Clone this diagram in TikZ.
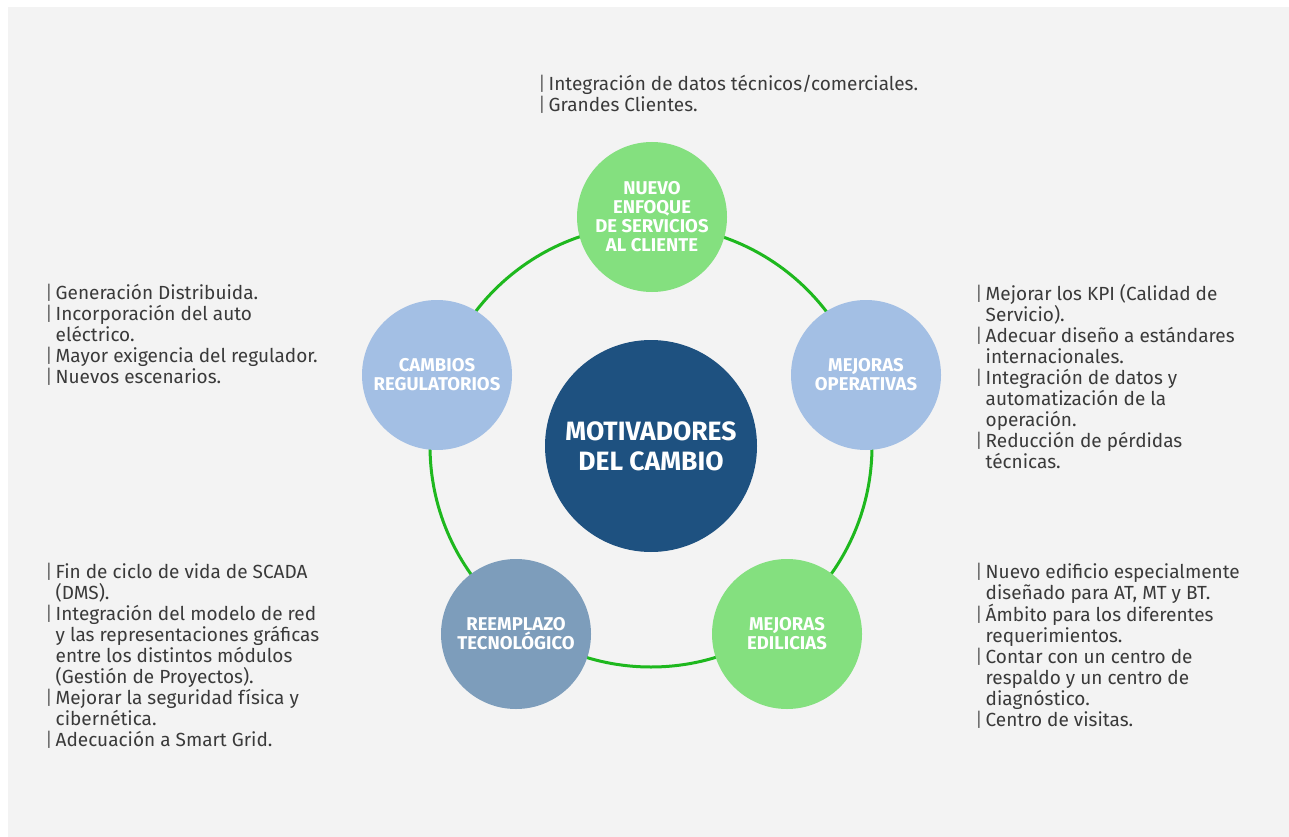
\documentclass[tikz,border=0pt]{standalone}
\usepackage{fontspec}
\setmainfont{Fira Sans}
\definecolor{panel}{HTML}{F3F3F3}
\definecolor{txt}{HTML}{3A3A3A}
\definecolor{ringc}{HTML}{1EB81E}
\definecolor{leaf}{HTML}{84E07F}
\definecolor{sky}{HTML}{A3BFE4}
\definecolor{steel}{HTML}{7D9DBB}
\definecolor{navy}{HTML}{1E5180}

% bullet bar and hanging indent for the side notes
\newlength{\barw}\setlength{\barw}{10.5pt}
\newcommand{\bi}{\makebox[\barw][l]{\color{txt!75}|}}
\newcommand{\ci}{\hspace*{\barw}}

\begin{document}
\begin{tikzpicture}[x=1pt,y=-1pt,
  hub/.style={circle, fill=navy, text=white, minimum size=212pt, inner sep=0pt,
    align=center, font=\fontsize{26.5}{30}\selectfont\bfseries},
  spoke/.style={circle, minimum size=150pt, inner sep=0pt, text=white,
    align=center, font=\fontsize{18.5}{19}\selectfont\bfseries},
  note/.style={anchor=north west, align=left, text=txt, inner sep=0pt,
    font=\fontsize{19}{21}\selectfont},
  ringline/.style={draw=ringc, line width=3pt}]
\useasboundingbox (0,0) rectangle (1289,837);
\fill[white] (0,0) rectangle (1289,837);
\fill[panel] (8,7) rectangle (1289,837);

% centre of the cycle
\coordinate (o) at (651,446);
\draw[ringline] (o) circle (221pt);

\node[hub] (hub) at (o) {MOTIVADORES\\DEL CAMBIO};

\node[spoke, fill=leaf]  (top) at (652,217) {NUEVO\\ENFOQUE\\DE SERVICIOS\\AL CLIENTE};
\node[spoke, fill=sky]   (lft) at (437,375) {CAMBIOS\\REGULATORIOS};
\node[spoke, fill=sky]   (rgt) at (866,375) {MEJORAS\\OPERATIVAS};
\node[spoke, fill=steel] (bl)  at (516,634) {REEMPLAZO\\TECNOLÓGICO};
\node[spoke, fill=leaf]  (br)  at (787,634) {MEJORAS\\EDILICIAS};

% side notes
\node[note] (ntop) at (538,75) {\bi Integración de datos técnicos/comerciales.\\
\bi Grandes Clientes.};

\node[note] (nlft) at (45,284) {\bi Generación Distribuida.\\
\bi Incorporación del auto\\
\ci eléctrico.\\
\bi Mayor exigencia del regulador.\\
\bi Nuevos escenarios.};

\node[note] (nrgt) at (975,284) {\bi Mejorar los KPI (Calidad de\\
\ci Servicio).\\
\bi Adecuar diseño a estándares\\
\ci internacionales.\\
\bi Integración de datos y\\
\ci automatización de la\\
\ci operación.\\
\bi Reducción de pérdidas\\
\ci técnicas.};

\node[note] (nbl) at (45,563) {\bi Fin de ciclo de vida de SCADA\\
\ci (DMS).\\
\bi Integración del modelo de red\\
\ci y las representaciones gráficas\\
\ci entre los distintos módulos\\
\ci (Gestión de Proyectos).\\
\bi Mejorar la seguridad física y\\
\ci cibernética.\\
\bi Adecuación a Smart Grid.};

\node[note] (nbr) at (975,563) {\bi Nuevo edificio especialmente\\
\ci diseñado para AT, MT y BT.\\
\bi Ámbito para los diferentes\\
\ci requerimientos.\\
\bi Contar con un centro de\\
\ci respaldo y un centro de\\
\ci diagnóstico.\\
\bi Centro de visitas.};
\end{tikzpicture}
\end{document}
